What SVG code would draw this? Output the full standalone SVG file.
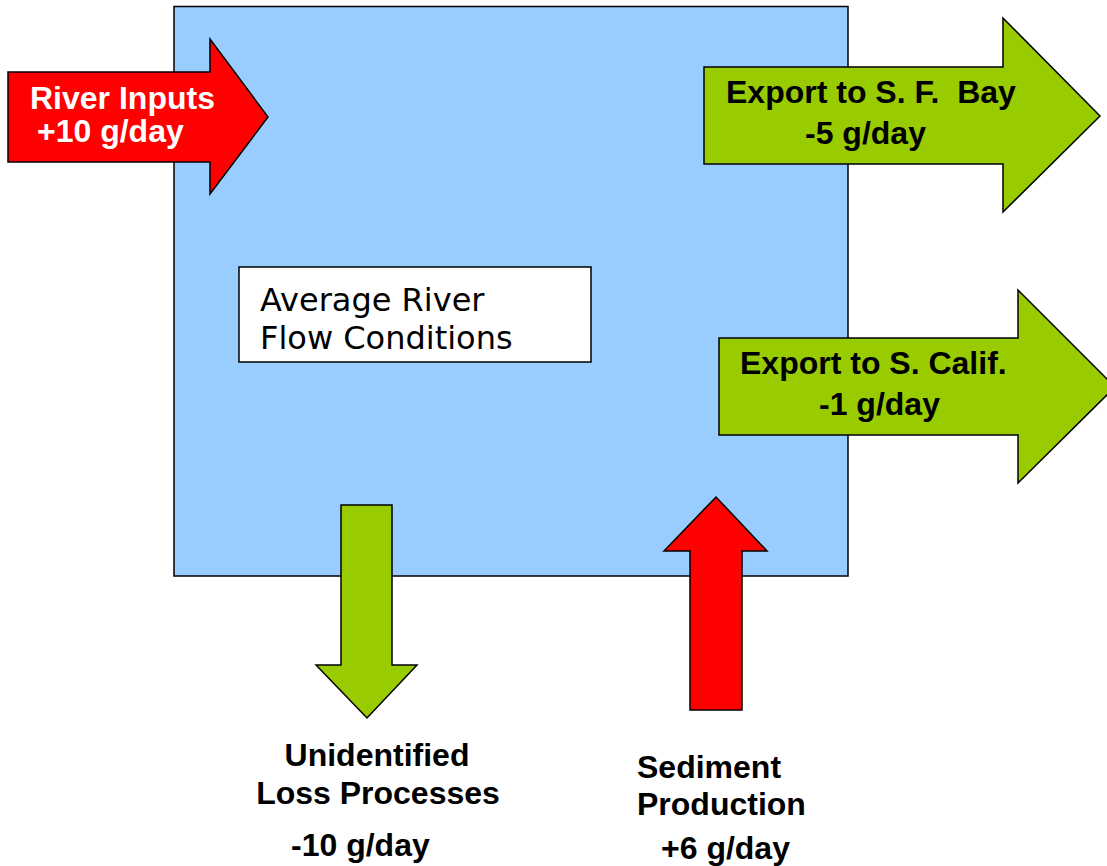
<svg xmlns="http://www.w3.org/2000/svg" width="1107" height="866" viewBox="0 0 1107 866">
<style>
.ar{stroke:#000;stroke-width:1.5;stroke-linejoin:miter}
.red{fill:#FF0000}
.grn{fill:#99CC00}
.lb{font-family:"Liberation Sans",Arial,sans-serif;font-weight:bold;font-size:32px;fill:#000}
.wl{fill:#fff}
.vd{font-family:"DejaVu Sans",Verdana,sans-serif;font-size:32px;fill:#000}
</style>
<rect width="1107" height="866" fill="#fff"/>
<g id="basin">
<rect x="174" y="6.5" width="674" height="569.5" fill="#99CCFF" stroke="#000" stroke-width="1.5"/>
</g>
<g id="conditions">
<rect x="239" y="267" width="352" height="95" fill="#fff" stroke="#000" stroke-width="1.5"/>
<text class="vd" x="260" y="311">Average River</text>
<text class="vd" x="260" y="349">Flow Conditions</text>
</g>
<g id="connectors">
<g id="river-inputs">
<polygon class="ar red" points="8,72 210,72 210,39 268,117 210,194 210,162 8,162"/>
<text class="lb wl" x="30" y="109">River Inputs</text>
<text class="lb wl" x="37" y="142">+10 g/day</text>
</g>
<g id="export-sf-bay">
<polygon class="ar grn" points="704,67 1003,67 1003,18 1100,116 1003,212 1003,164 704,164"/>
<text class="lb" x="726" y="103" xml:space="preserve">Export to S. F.  Bay</text>
<text class="lb" x="805" y="144">-5 g/day</text>
</g>
<g id="export-s-calif">
<polygon class="ar grn" points="719,338 1018,338 1018,290 1115,387 1018,483 1018,435 719,435"/>
<text class="lb" x="740" y="374">Export to S. Calif.</text>
<text class="lb" x="819" y="415">-1 g/day</text>
</g>
<g id="loss">
<polygon class="ar grn" points="341,505 392,505 392,665 417,665 367,718 316,665 341,665"/>
</g>
<g id="production">
<polygon class="ar red" points="690,710 742,710 742,551 767,551 716,497 664,551 690,551"/>
</g>
</g>
<g id="loss-label">
<text class="lb" x="377" y="766" text-anchor="middle">Unidentified</text>
<text class="lb" x="378" y="804" text-anchor="middle">Loss Processes</text>
<text class="lb" x="291" y="856">-10 g/day</text>
</g>
<g id="production-label">
<text class="lb" x="637" y="778">Sediment</text>
<text class="lb" x="637" y="815">Production</text>
<text class="lb" x="661" y="859">+6 g/day</text>
</g>
</svg>
